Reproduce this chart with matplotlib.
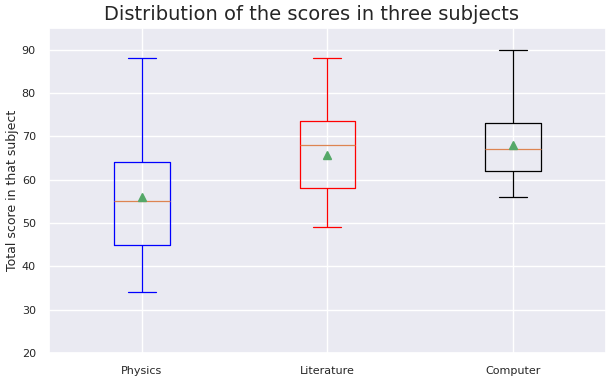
import matplotlib
matplotlib.use('Agg')
import matplotlib.pyplot as plt
import seaborn as sns

sns.set_theme(style='darkgrid')

subjects = ['Physics', 'Literature', 'Computer']
whislo = [34, 49, 56]
q1 = [45, 58, 62]
med = [55, 68, 67]
q3 = [64, 73.5, 73]
whishi = [88, 88, 90]
means = [56, 65.8, 68]
box_colors = ['blue', 'red', 'black']

stats = []
for i, name in enumerate(subjects):
    stats.append({'label': name, 'whislo': whislo[i], 'q1': q1[i], 'med': med[i],
                  'q3': q3[i], 'whishi': whishi[i], 'mean': means[i], 'fliers': []})

fig = plt.figure(figsize=(6.12, 3.8), dpi=100)
ax = fig.add_axes([0.08, 0.071, 0.91, 0.855])
bp = ax.bxp(stats, widths=0.3, showmeans=True, patch_artist=False,
            medianprops={'color': '#dd8452', 'linewidth': 0.9},
            meanprops={'marker': '^', 'markerfacecolor': '#55a868',
                       'markeredgecolor': '#55a868', 'markersize': 5.5})
for i, c in enumerate(box_colors):
    bp['boxes'][i].set_color(c)
    bp['boxes'][i].set_linewidth(0.9)
    for art in bp['whiskers'][2*i:2*i+2] + bp['caps'][2*i:2*i+2]:
        art.set_color(c)
        art.set_linewidth(0.9)

ax.set_ylim(20, 95)
ax.set_yticks(range(20, 91, 10))
ax.tick_params(labelsize=8)
ax.set_ylabel('Total score in that subject', fontsize=9, labelpad=2)
ax.set_title('Distribution of the scores in three subjects', fontsize=14, x=0.472)
fig.savefig('out.png', dpi=100)
